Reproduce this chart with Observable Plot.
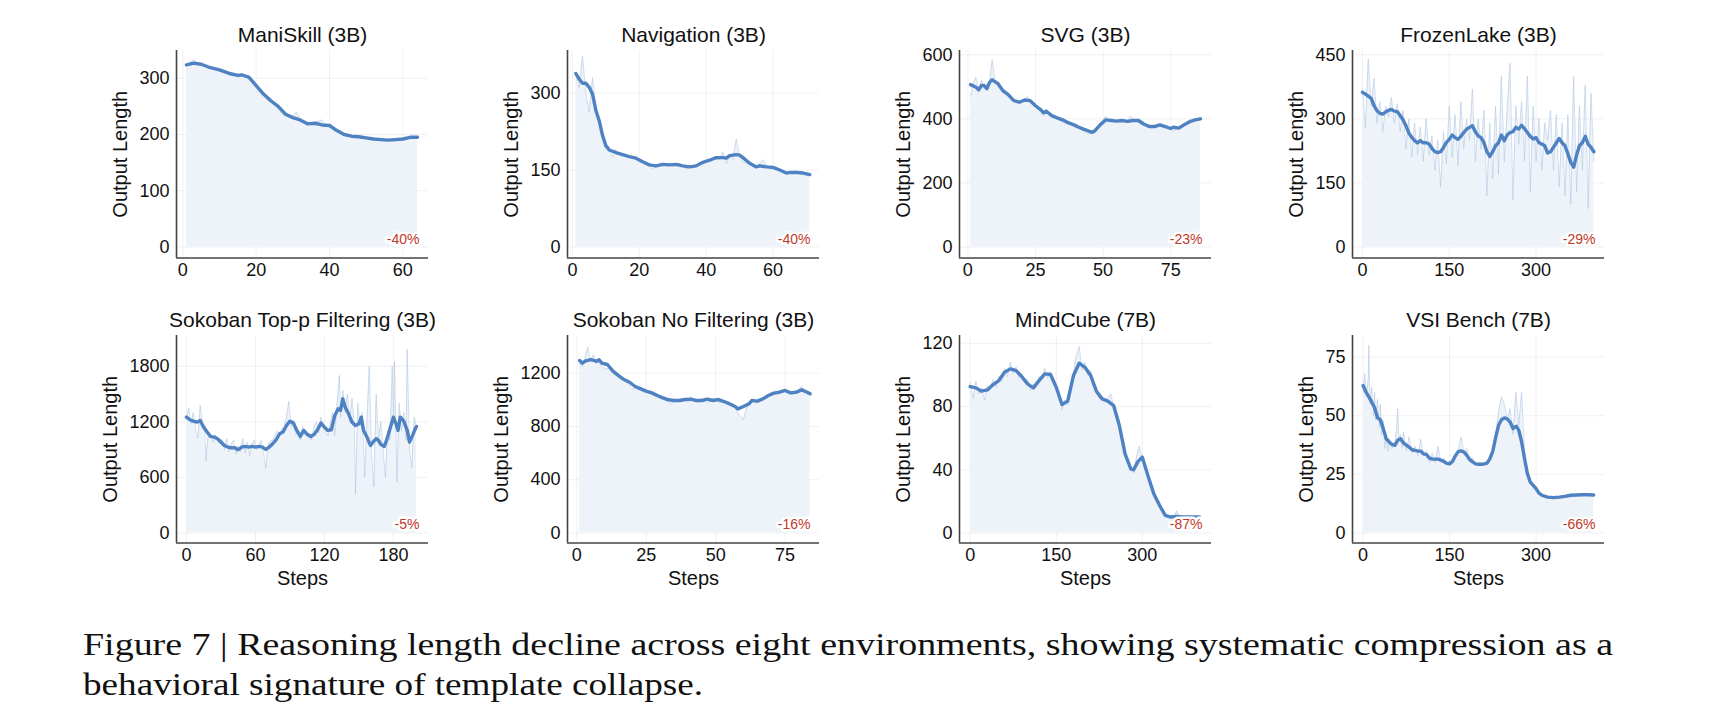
<!DOCTYPE html>
<html><head><meta charset="utf-8">
<script src="https://cdn.jsdelivr.net/npm/d3@7"></script>
<script src="https://cdn.jsdelivr.net/npm/@observablehq/plot@0.6"></script>
<style>
html,body{margin:0;padding:0;background:#fff;}
#fig{position:relative;width:1732px;height:724px;overflow:hidden;background:#fff;}
.panel{position:absolute;}
.panel svg{overflow:visible;}
#caption{position:absolute;left:0;top:0;}
</style></head><body><div id="fig"></div>
<script>
// ---------------- data ----------------
const titles = ["ManiSkill (3B)", "Navigation (3B)", "SVG (3B)", "FrozenLake (3B)",
  "Sokoban Top-p Filtering (3B)", "Sokoban No Filtering (3B)", "MindCube (7B)", "VSI Bench (7B)"];
const changes = ["-40%", "-40%", "-23%", "-29%", "-5%", "-16%", "-87%", "-66%"];
const yLabel = "Output Length";
const xLabel = "Steps";
const yTicks = [[0,100,200,300],[0,150,300],[0,200,400,600],[0,150,300,450],
  [0,600,1200,1800],[0,400,800,1200],[0,40,80,120],[0,25,50,75]];
const xTicks = [[0,20,40,60],[0,20,40,60],[0,25,50,75],[0,150,300],
  [0,60,120,180],[0,25,50,75],[0,150,300],[0,150,300]];

const maniSkillSmooth = [[1,324],[3,327],[5,325],[7,320],[10,315],[13,308],[15,305],[16,306],[18,302],[20,287],[22,272],[24,260],[26,250],[28,236],[30,230],[32,226],[34,219],[36,220],[38,217],[40,216],[42,207],[44,200],[46,197],[48,196],[50,194],[52,192],[54,191],[56,190],[58,191],[60,192],[62,195],[64,195]];
const maniSkillRaw = [[1,322],[2,328],[3,333],[4,326],[5,325],[6,322],[7,318],[9,316],[11,312],[13,306],[15,305],[16,308],[18,300],[20,288],[22,270],[24,258],[26,252],[28,238],[30,232],[31,240],[32,226],[34,220],[36,222],[38,226],[39,216],[41,212],[43,204],[45,198],[47,198],[49,195],[51,193],[53,191],[55,190],[57,191],[59,192],[61,194],[63,197],[64,196]];

const navigationSmooth = [[1,338],[2,327],[3,319],[4,319],[5,311],[6,298],[7,266],[8,246],[9,217],[10,197],[11,189],[13,184],[15,180],[17,176],[19,173],[21,166],[23,160],[25,158],[27,161],[29,160],[31,161],[33,158],[35,156],[37,158],[39,165],[41,169],[43,174],[45,174],[46,173],[47,178],[49,180],[50,179],[51,174],[53,163],[55,156],[56,158],[58,156],[60,155],[62,150],[64,144],[65,145],[67,145],[69,144],[71,141]];
const navigationRaw = [[1,335],[2,310],[3,372],[4,300],[5,262],[6,330],[7,270],[8,250],[9,215],[10,200],[11,195],[12,175],[13,190],[14,180],[16,178],[18,172],[20,170],[22,163],[24,152],[26,160],[28,162],[30,158],[32,163],[34,152],[36,158],[38,162],[40,168],[42,172],[44,170],[45,185],[46,162],[47,178],[48,170],[49,210],[50,178],[51,165],[53,162],[55,155],[57,170],[59,152],[61,152],[63,148],[65,143],[67,148],[69,146],[71,140]];

const svgSmooth = [[1,507],[3,499],[4,491],[5,504],[6,504],[7,494],[8,514],[9,522],[11,511],[13,488],[15,475],[17,457],[19,452],[21,459],[23,457],[25,441],[27,428],[28,419],[29,424],[31,410],[33,403],[35,397],[37,388],[39,382],[41,374],[43,367],[45,361],[46,358],[47,363],[49,382],[51,397],[53,395],[55,393],[57,395],[59,392],[61,395],[63,395],[65,384],[67,376],[69,376],[71,381],[73,376],[75,370],[76,374],[78,371],[80,382],[82,391],[84,397],[86,400]];
const svgRaw = [[1,470],[2,510],[3,530],[4,485],[5,520],[6,500],[7,495],[8,515],[9,585],[10,520],[11,505],[13,480],[15,480],[17,455],[19,450],[21,462],[22,470],[24,448],[26,430],[28,410],[29,430],[31,408],[33,400],[35,390],[37,395],[39,378],[41,372],[43,360],[45,352],[46,362],[47,360],[49,385],[51,408],[53,392],[55,395],[57,398],[59,390],[60,408],[62,393],[64,398],[66,378],[68,372],[70,383],[72,372],[74,375],[76,360],[78,375],[80,382],[82,398],[84,395],[86,405]];

const frozenLakeSmooth = [[0,362],[5,358],[10,353],[15,348],[20,331],[25,319],[30,313],[35,311],[40,316],[45,320],[50,322],[55,318],[60,317],[65,308],[70,298],[75,284],[80,267],[85,257],[90,249],[95,244],[100,249],[105,244],[110,244],[115,241],[120,231],[125,223],[130,221],[135,223],[140,233],[145,245],[150,252],[155,262],[160,256],[165,252],[170,259],[175,268],[180,276],[185,280],[190,284],[195,270],[200,260],[205,256],[210,244],[215,223],[220,212],[225,223],[230,237],[235,244],[240,262],[245,249],[250,262],[255,268],[260,270],[265,280],[270,276],[275,285],[280,277],[285,268],[290,259],[295,253],[300,256],[305,244],[310,241],[315,237],[320,220],[325,223],[330,233],[335,244],[340,254],[345,244],[350,237],[355,218],[360,198],[365,187],[370,215],[375,237],[380,244],[385,259],[390,241],[395,233],[400,223]];
const frozenLakeRaw = [[0,370],[5,280],[10,440],[15,330],[20,395],[25,290],[30,340],[35,270],[40,330],[45,305],[50,350],[55,290],[60,335],[65,270],[70,320],[75,230],[80,300],[85,210],[90,290],[95,215],[100,280],[105,200],[110,300],[115,215],[120,260],[125,180],[130,250],[135,140],[140,270],[145,195],[150,330],[155,210],[160,310],[165,190],[170,340],[175,230],[180,300],[185,250],[190,370],[195,200],[200,300],[205,230],[210,320],[215,120],[220,290],[225,160],[230,330],[235,170],[240,400],[245,200],[250,320],[255,430],[260,110],[265,330],[270,240],[275,340],[280,200],[285,400],[290,130],[295,330],[300,200],[305,300],[310,180],[315,290],[320,250],[325,320],[330,180],[335,310],[340,140],[345,290],[350,120],[355,310],[360,100],[365,400],[370,130],[375,330],[380,180],[385,380],[390,90],[395,360],[400,200]];

const sokobanTopPSmooth = [[0,1250],[3,1222],[6,1207],[9,1196],[12,1214],[15,1142],[18,1089],[21,1042],[24,1035],[27,1017],[30,981],[33,945],[36,927],[39,920],[42,920],[45,898],[48,927],[51,934],[54,927],[57,934],[60,927],[63,934],[66,927],[69,902],[72,927],[75,963],[78,1006],[81,1071],[84,1089],[87,1160],[90,1207],[93,1186],[96,1107],[99,1042],[102,1107],[105,1064],[108,1042],[111,1064],[114,1114],[117,1186],[120,1142],[123,1107],[126,1114],[129,1268],[132,1340],[134,1322],[135,1387],[136,1448],[138,1358],[141,1286],[144,1196],[147,1160],[150,1178],[152,1250],[154,1107],[157,1035],[160,945],[163,992],[165,1017],[167,999],[169,956],[172,934],[174,999],[177,1125],[180,1250],[182,1186],[184,1107],[186,1250],[189,1207],[192,1107],[194,981],[196,1035],[199,1125],[200,1150]];
const sokobanTopPRaw = [[0,1230],[2,1350],[4,1180],[6,1300],[8,1120],[10,1020],[12,1380],[14,1150],[16,1100],[17,780],[19,1080],[21,1050],[23,980],[25,1060],[27,1000],[29,960],[31,1010],[33,900],[35,1020],[37,880],[39,960],[41,1000],[43,850],[45,940],[47,880],[49,1020],[51,860],[53,980],[55,830],[57,960],[59,1000],[61,900],[63,940],[65,1000],[67,880],[69,700],[71,950],[73,990],[75,1000],[77,1060],[79,1100],[81,1050],[83,1120],[85,1150],[87,1250],[89,1420],[91,1150],[93,1220],[95,1060],[97,1100],[99,1000],[101,1150],[103,1100],[105,1040],[107,1080],[109,1000],[111,1150],[113,1200],[115,1080],[117,1250],[119,1170],[121,1100],[123,1050],[125,1180],[127,1300],[129,1050],[131,1400],[133,1700],[134,1250],[136,1540],[138,1300],[140,1500],[142,1200],[144,1450],[146,1150],[147,420],[149,1400],[151,1150],[153,1300],[155,600],[157,1200],[159,1800],[161,850],[163,500],[165,1500],[167,1000],[169,1200],[171,900],[173,600],[175,1100],[177,1000],[179,1800],[180,1200],[181,1850],[183,550],[185,1400],[187,1100],[189,1300],[191,1000],[192,1980],[194,900],[196,700],[198,1250],[200,1150]];

const sokobanNoFilterSmooth = [[1,1295],[2,1275],[3,1290],[5,1302],[7,1290],[8,1300],[9,1275],[11,1265],[13,1215],[15,1182],[17,1152],[19,1132],[21,1100],[23,1082],[25,1065],[27,1052],[29,1032],[31,1015],[33,1000],[35,995],[37,995],[39,1002],[41,1005],[43,995],[45,995],[47,1005],[49,995],[51,1002],[53,987],[55,970],[57,950],[58,932],[60,950],[62,970],[63,995],[65,990],[67,1007],[69,1032],[71,1050],[73,1057],[75,1070],[77,1052],[79,1057],[81,1075],[83,1057],[84,1045]];
const sokobanNoFilterRaw = [[1,1280],[2,1250],[3,1320],[4,1395],[5,1290],[6,1340],[7,1270],[8,1310],[9,1250],[10,1230],[12,1240],[14,1190],[16,1160],[18,1130],[20,1080],[22,1095],[24,1060],[26,1050],[28,1030],[30,1010],[32,995],[34,970],[36,990],[38,1010],[40,980],[41,1020],[43,985],[45,1005],[47,975],[49,1010],[51,980],[53,990],[55,960],[57,940],[58,900],[60,850],[61,930],[63,1000],[65,980],[67,1010],[69,1040],[71,1060],[73,1050],[75,1080],[77,1050],[79,1060],[81,1100],[82,1060],[83,1040],[84,1050]];

const mindCubeSmooth = [[0,92.6],[10,91.8],[20,89.7],[30,90.5],[40,93.9],[50,96.4],[60,101.7],[70,103.8],[80,102.7],[90,98.9],[100,94.3],[110,91.8],[120,96.4],[130,100.6],[140,100.2],[150,92.2],[160,81.3],[170,83.4],[180,99.6],[190,107.4],[200,104.8],[210,99.6],[220,89.7],[230,84.8],[240,83.4],[250,80.6],[260,68],[270,50],[280,40.5],[285,40],[292,45],[300,48],[310,36],[320,24.8],[330,17.5],[340,11.2],[350,10.1],[360,10.5],[370,10.1],[380,10.1],[390,10.1],[400,10.1]];
const mindCubeRaw = [[0,95],[5,85],[10,96],[15,88],[20,92],[25,84],[30,93],[35,91],[40,97],[45,92],[50,99],[55,96],[60,104],[65,99],[70,108],[75,101],[80,105],[85,98],[90,101],[95,95],[100,97],[105,90],[110,94],[115,92],[120,99],[125,97],[130,104],[135,98],[140,102],[145,96],[150,93],[155,88],[160,78],[165,84],[170,81],[175,90],[180,101],[185,112],[190,118],[195,103],[200,108],[205,100],[210,103],[215,95],[220,92],[225,85],[230,87],[235,84],[240,85],[245,88],[250,80],[255,72],[260,69],[265,60],[270,48],[275,44],[280,41],[285,38],[290,48],[295,55],[300,45],[305,40],[310,36],[315,30],[320,27],[325,21],[330,18],[335,14],[340,12],[345,10],[350,11],[355,10],[360,14],[365,10],[370,11],[380,10],[390,10],[400,10]];

const vsiSmooth = [[0,62.9],[5,60.1],[10,58],[15,55.8],[20,53.4],[25,49.1],[30,48.3],[35,44.5],[40,40.2],[45,38.8],[50,37.8],[55,37.4],[60,39.5],[65,40.2],[70,38.4],[75,37.4],[80,36.6],[85,35.5],[90,35.2],[95,34.9],[100,34.9],[105,33.7],[110,33.4],[115,31.9],[120,31.5],[125,31.5],[130,31.5],[135,31.1],[140,30.5],[145,29.7],[150,29.5],[155,30.5],[160,32.9],[165,34.7],[170,35],[175,34.5],[180,33.1],[185,31.3],[190,30.3],[195,29.5],[200,29.3],[205,29.3],[210,29.5],[215,29.8],[220,31.7],[225,34.9],[230,40.9],[235,45.9],[240,48.3],[245,49.1],[250,48.7],[255,47.3],[260,44.5],[263,45.2],[266,45.5],[270,43.8],[275,38.8],[280,31.7],[285,25.3],[290,21.7],[295,20.3],[300,18.9],[305,17],[310,16.1],[320,15.3],[330,15.1],[340,15.3],[350,15.6],[360,16.1],[370,16.2],[380,16.3],[390,16.3],[400,16.2]];
const vsiRaw = [[0,60],[3,68],[6,58],[9,66],[10,80],[12,55],[15,62],[18,50],[20,60],[22,48],[25,57],[28,45],[30,55],[32,42],[35,48],[38,36],[40,42],[43,35],[46,40],[50,36],[55,38],[58,44],[60,53],[62,40],[65,42],[68,36],[70,43],[75,35],[80,41],[85,34],[90,37],[95,33],[100,40],[105,33],[110,35],[115,30],[120,34],[125,30],[130,37],[135,30],[140,32],[145,29],[150,31],[155,30],[160,33],[165,35],[170,41],[175,34],[180,36],[185,31],[190,32],[195,29],[200,30],[210,29],[220,32],[225,36],[230,42],[235,52],[240,58],[245,55],[250,48],[255,53],[260,42],[265,60],[270,46],[275,60],[280,35],[285,25],[290,22],[295,20],[300,19],[310,16],[320,15],[340,15],[360,16],[380,16],[400,16]];

const smoothSeries = [maniSkillSmooth, navigationSmooth, svgSmooth, frozenLakeSmooth,
  sokobanTopPSmooth, sokobanNoFilterSmooth, mindCubeSmooth, vsiSmooth];
const rawSeries = [maniSkillRaw, navigationRaw, svgRaw, frozenLakeRaw,
  sokobanTopPRaw, sokobanNoFilterRaw, mindCubeRaw, vsiRaw];

const captionLines = [
  "Figure 7 | Reasoning length decline across eight environments, showing systematic compression as a",
  "behavioral signature of template collapse."
];

// ---------------- layout (scale settings, positions) ----------------
const xDomains = [[-1.72,67.0],[-1.49,73.9],[-3.09,90.07],[-17.3,418.3],
  [-8.65,210.5],[-3.37,87.4],[-18.6,420.6],[-18.4,418.7]];
const yDomains = [[-19.6,349.4],[-21.5,382.8],[-34.4,613.5],[-25.8,460],
  [-107.8,2131],[-75,1482.8],[-6.3,124.9],[-4.26,84.2]];
const axisLefts = [176, 567.3, 959.3, 1351.7];
const axisTops = [50, 335];
const mL = 90, mT = 45, mR = 30, mB = 65, frameW = 252, frameH = 207.5;

const fig = document.getElementById("fig");
const FONT = "'Liberation Sans', Arial, Helvetica, sans-serif";
const fmt = d => String(d);

for (let i = 0; i < 8; i++) {
  const row = Math.floor(i / 4), col = i % 4;
  const nd = String(d3.max(yTicks[i])).length;
  const marks = [
    Plot.gridY(yTicks[i], {stroke: "#000", strokeOpacity: 0.06, strokeWidth: 1}),
    Plot.gridX(xTicks[i], {stroke: "#000", strokeOpacity: 0.06, strokeWidth: 1}),
    Plot.areaY(rawSeries[i], {x: d => d[0], y: d => d[1], fill: "#eef3f9", fillOpacity: 1}),
    Plot.lineY(rawSeries[i], {x: d => d[0], y: d => d[1], stroke: "#a9c2e0", strokeWidth: 0.9, strokeOpacity: 0.6}),
    Plot.lineY(smoothSeries[i], {x: d => d[0], y: d => d[1], stroke: "#4e82c2", strokeWidth: 3.4, strokeLinejoin: "round", strokeLinecap: "round"}),
    Plot.ruleX([xDomains[i][0]], {stroke: "#444", strokeWidth: 1.6}),
    Plot.ruleY([yDomains[i][0]], {stroke: "#444", strokeWidth: 1.6}),
    Plot.axisY(yTicks[i], {tickSize: 0, tickPadding: 7, fontSize: 18, fill: "#111", label: null, tickFormat: fmt}),
    Plot.axisX(xTicks[i], {tickSize: 0, tickPadding: 5, fontSize: 18, fill: "#111", label: null, tickFormat: fmt}),
    Plot.text([titles[i]], {frameAnchor: "top", dy: -15, lineAnchor: "middle", textAnchor: "middle", fontSize: 21, fill: "#111", text: d => d}),
    Plot.text([yLabel], {frameAnchor: "left", rotate: -90, dx: -(26 + 10 * nd), lineAnchor: "middle", textAnchor: "middle", fontSize: 20, fill: "#111", text: d => d}),
    Plot.text([changes[i]], {frameAnchor: "bottom-right", dx: -9, dy: -18, lineAnchor: "middle", textAnchor: "end", fontSize: 14, fill: "#c0392b", stroke: "#fff", strokeWidth: 5, strokeLinejoin: "miter", paintOrder: "stroke", text: d => d})
  ];
  if (row === 1) {
    marks.push(Plot.text([xLabel], {frameAnchor: "bottom", dy: 36, lineAnchor: "middle", textAnchor: "middle", fontSize: 20, fill: "#111", text: d => d}));
  }
  const chart = Plot.plot({
    width: mL + frameW + mR,
    height: mT + frameH + mB,
    marginLeft: mL, marginRight: mR, marginTop: mT, marginBottom: mB,
    style: {fontFamily: FONT, fontSize: "18px", background: "transparent", overflow: "visible"},
    x: {domain: xDomains[i]},
    y: {domain: yDomains[i]},
    marks
  });
  const div = document.createElement("div");
  div.className = "panel";
  div.style.left = (axisLefts[col] - mL) + "px";
  div.style.top = (axisTops[row] - mT) + "px";
  div.appendChild(chart);
  fig.appendChild(div);
}

// caption
const ns = "http://www.w3.org/2000/svg";
const cap = document.createElementNS(ns, "svg");
cap.setAttribute("id", "caption");
cap.setAttribute("width", 1732);
cap.setAttribute("height", 724);
const capX = 83, capY = [655, 695], capLen = [1530, 620];
captionLines.forEach((t, k) => {
  const tx = document.createElementNS(ns, "text");
  tx.setAttribute("x", capX);
  tx.setAttribute("y", capY[k]);
  tx.setAttribute("style", "font-family:'Liberation Serif','Times New Roman',serif;font-size:32px;fill:#111;");
  tx.setAttribute("textLength", capLen[k]);
  tx.setAttribute("lengthAdjust", "spacingAndGlyphs");
  tx.textContent = t;
  cap.appendChild(tx);
});
fig.appendChild(cap);
</script>
</body></html>
